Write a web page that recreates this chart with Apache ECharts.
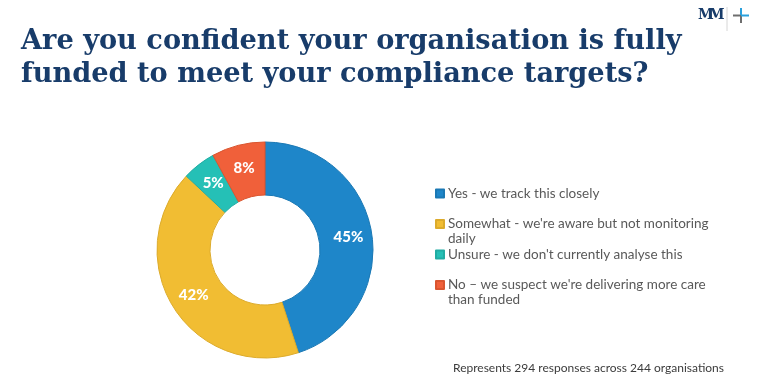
<!DOCTYPE html>
<html>
<head>
<meta charset="utf-8">
<script src="https://cdn.jsdelivr.net/npm/echarts@6/dist/echarts.min.js"></script>
<style>html,body{margin:0;padding:0;background:#fff;}#c{width:760px;height:378px;}</style>
</head>
<body>
<div id="c"></div>
<script>
var titleText = 'Are you confident your organisation is fully\nfunded to meet your compliance targets?';
var categories = [
  'Yes - we track this closely',
  "Somewhat - we're aware but not monitoring daily",
  "Unsure - we don't currently analyse this",
  "No \u2013 we suspect we're delivering more care than funded"
];
var legendLabels = [
  'Yes - we track this closely',
  "\nSomewhat - we're aware but not monitoring\ndaily",
  "Unsure - we don't currently analyse this",
  "\nNo \u2013 we suspect we're delivering more care\nthan funded"
];
var values = [45, 42, 5, 8];
var colors = ['#1e86c9', '#f1bd33', '#25c0b6', '#f0603a'];
var borders = ['#1a78b4', '#dcab2c', '#21aca3', '#d9552f'];
var footnote = 'Represents 294 responses across 244 organisations';

var chart = echarts.init(document.getElementById('c'), null, {renderer: 'canvas'});
var data = categories.map(function (c, i) {
  return {name: c, value: values[i], itemStyle: {color: colors[i], borderColor: borders[i], borderWidth: 1}};
});
var labelMap = {};
categories.forEach(function (c, i) { labelMap[c] = legendLabels[i]; });

chart.setOption({
  animation: false,
  title: [{
    text: titleText,
    left: 21, top: 25, padding: 0,
    textStyle: {fontFamily: 'DejaVu Serif', fontWeight: 'bold', fontSize: 27.2, lineHeight: 33, color: '#183c6a'}
  }, {
    text: footnote,
    left: 453, top: 362, padding: 0,
    textStyle: {fontFamily: 'Lato', fontWeight: 'normal', fontSize: 12, color: '#3c3c3c'}
  }],
  legend: {
    orient: 'vertical',
    left: 435, top: 186, padding: 0,
    itemWidth: 8, itemHeight: 8, itemGap: 0.5,
    icon: 'rect',
    data: categories,
    formatter: function (n) { return labelMap[n]; },
    textStyle: {fontFamily: 'Lato', fontSize: 13.5, lineHeight: 15, color: '#595959', padding: [0, 0, 0, -1]},
    selectedMode: false
  },
  series: [{
    type: 'pie',
    center: [265, 250],
    radius: [55, 108],
    startAngle: 90,
    clockwise: true,
    data: data,
    label: {
      position: 'inside',
      formatter: '{c}%',
      color: '#fff',
      fontFamily: 'Lato',
      fontWeight: 900,
      fontSize: 15
    },
    labelLine: {show: false},
    emphasis: {disabled: true}
  }],
  graphic: [
    {type: 'text', left: 698, top: 8, style: {text: 'M', font: 'bold 14px "DejaVu Serif"', fill: '#183c6a'}},
    {type: 'text', left: 709, top: 8, style: {text: 'M', font: 'bold 14px "DejaVu Serif"', fill: '#183c6a'}},
    {type: 'line', shape: {x1: 727, y1: 7, x2: 727, y2: 31}, style: {stroke: '#d6d6d6', lineWidth: 1}},
    {type: 'line', shape: {x1: 741, y1: 8, x2: 741, y2: 23}, style: {stroke: '#6e6e6e', lineWidth: 2}},
    {type: 'line', shape: {x1: 733, y1: 15.5, x2: 741, y2: 15.5}, style: {stroke: '#6e6e6e', lineWidth: 2}},
    {type: 'line', shape: {x1: 741, y1: 15.5, x2: 749, y2: 15.5}, style: {stroke: '#2aa0dc', lineWidth: 2}},
    {type: 'line', shape: {x1: 741, y1: 8, x2: 741, y2: 15}, style: {stroke: '#2aa0dc', lineWidth: 2}}
  ]
});
</script>
</body>
</html>
